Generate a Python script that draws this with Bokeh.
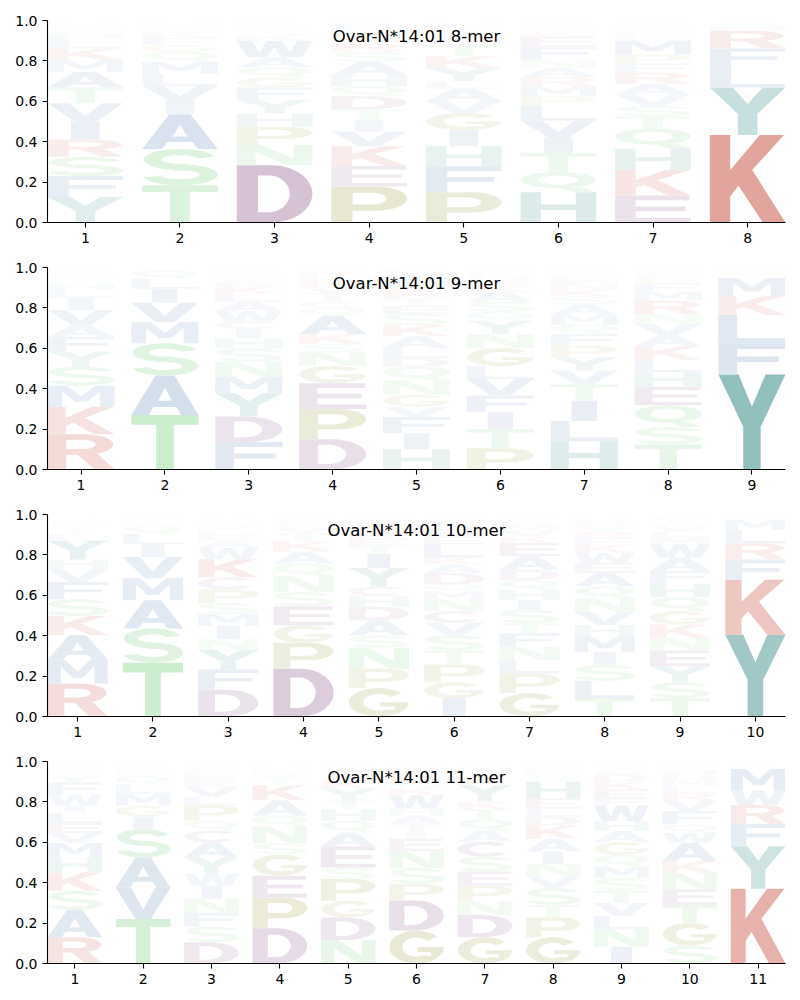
import math
from bokeh.plotting import figure
from bokeh.layouts import column
from bokeh.models import Range1d, FixedTicker, Label, NumeralTickFormatter, ColumnDataSource
from bokeh.embed import file_html
from bokeh.resources import INLINE

TITLES = ["Ovar-N*14:01 8-mer", "Ovar-N*14:01 9-mer", "Ovar-N*14:01 10-mer", "Ovar-N*14:01 11-mer"]

# letters of each position, bottom to top, with their heights (frequencies)
MER8_LETTERS = ["YFSRIVTAMKLHENQGDPCW", "TSAIVLMQGFKYNERHDPCW", "DNPHYFGQAWKSETRVLIMC",
                "PEKVITDQHASRGNFLYMCW", "PFHIGVALYKTESNRDQMCW", "HQTIVLPMRANFEKSGDYCW",
                "EKHQTSVARFPMLNYGDICW", "KYLFRMHAVIS"]
MER8_HEIGHTS = [
    [.126, .103, .096, .086, .089, .09, .078, .078, .058, .058, .045, .03, .015, .012, .01, .008, .005, .003, .002, .002],
    [.184, .18, .172, .066, .075, .058, .06, .05, .035, .035, .025, .015, .012, .008, .006, .005, .004, .003, .002, .002],
    [.284, .1, .09, .066, .066, .062, .05, .05, .05, .08, .03, .02, .012, .01, .008, .006, .005, .004, .003, .002],
    [.178, .102, .098, .072, .06, .05, .065, .05, .055, .065, .05, .04, .035, .03, .02, .015, .01, .003, .002, .002],
    [.15, .128, .1, .08, .084, .06, .06, .037, .065, .06, .055, .03, .025, .02, .015, .01, .008, .004, .002, .002],
    [.15, .1, .093, .08, .082, .075, .045, .05, .045, .046, .04, .065, .05, .02, .015, .012, .01, .008, .005, .004],
    [.134, .126, .106, .1, .06, .051, .055, .055, .055, .045, .044, .07, .02, .02, .015, .012, .01, .008, .005, .004],
    [.433, .235, .1, .094, .087, .026, .008, .005, .004, .003, .002],
]

MER9_LETTERS = ["RKMSYFAVILHTQNEGDPCW", "TASMVILQGNEK", "FDYMNSHICWALKEQGTPRV",
                "DPEGNSKAQCTVRLFMHIYW", "HIFVGNQDLAKSETRPMYCW", "PTIFVLGNYQSAKEDHRMCW",
                "HLITVYPFQMASKNEGDRCW", "TSQEHLKAVNRMFGDYPICW", "YFLKMIVRHAWST"]
MER9_HEIGHTS = [
    [.174, .136, .105, .094, .075, .073, .057, .075, .06, .04, .03, .02, .015, .012, .01, .008, .006, .004, .003, .002],
    [.27, .195, .16, .105, .095, .07, .05, .04, .005, .004, .002, .002],
    [.136, .126, .115, .084, .072, .067, .05, .045, .038, .05, .046, .04, .035, .025, .02, .015, .01, .008, .006, .005],
    [.15, .149, .128, .086, .067, .041, .05, .091, .04, .03, .04, .035, .03, .025, .02, .008, .006, .004, .003, .002],
    [.1, .08, .08, .05, .06, .07, .07, .04, .05, .06, .055, .055, .04, .04, .035, .03, .03, .025, .02, .01],
    [.105, .095, .083, .083, .082, .063, .09, .07, .065, .045, .05, .045, .03, .025, .02, .015, .01, .008, .004, .003],
    [.14, .1, .1, .082, .068, .065, .058, .057, .047, .05, .05, .04, .035, .03, .025, .02, .01, .006, .002, .002],
    [.124, .086, .108, .092, .072, .061, .067, .055, .056, .049, .066, .045, .04, .03, .015, .012, .01, .008, .004, .003],
    [.47, .155, .14, .093, .09, .01, .012, .01, .008, .006, .005, .003, .002],
]

MER10_LETTERS = ["RMAKSFVHYLITQNEGDPC", "TSAMVILQGNEKFR", "DFYNIMSPCKWAELVGHQTR",
                 "DPGESNQAKTVLRFHMIYW", "GPNSADHCYITEKRQLVMWF", "IGPTSVCNMQDAKLEFHRYW",
                 "GPLNFTSIHQDAEKVMRYCW", "TLSIMHVNQAEWKFRYGDPC", "TSYENKGQHFAWMLVRIDPC",
                 "YKFRLMIHAVW"]
MER10_HEIGHTS = [
    [.163, .119, .121, .095, .083, .085, .063, .048, .093, .03, .02, .015, .012, .01, .008, .006, .004, .003, .002],
    [.266, .17, .14, .108, .105, .065, .05, .042, .012, .01, .008, .006, .005, .004],
    [.133, .1, .096, .053, .067, .058, .055, .067, .06, .09, .057, .035, .03, .025, .02, .015, .01, .008, .005, .002],
    [.236, .129, .087, .094, .07, .079, .063, .059, .049, .04, .03, .015, .012, .01, .008, .006, .004, .003, .002],
    [.141, .095, .104, .062, .075, .066, .052, .048, .092, .07, .04, .035, .03, .025, .02, .015, .01, .008, .004, .003],
    [.09, .08, .087, .07, .075, .062, .058, .058, .04, .034, .056, .043, .034, .065, .04, .035, .02, .02, .015, .01],
    [.116, .097, .066, .067, .066, .05, .067, .048, .05, .05, .05, .067, .065, .03, .03, .025, .02, .015, .01, .005],
    [.09, .087, .079, .064, .077, .056, .066, .066, .06, .067, .048, .05, .04, .035, .03, .025, .02, .012, .008, .005],
    [.09, .08, .079, .078, .063, .065, .067, .068, .068, .062, .067, .067, .03, .03, .025, .02, .015, .01, .005, .003],
    [.405, .272, .1, .08, .066, .05, .005, .005, .004, .003, .002],
]

MER11_LETTERS = ["RASKHMVELIWFYTNQGDCP", "TVASIGMLQFNEKRDHP", "DSFNIWYACQPLVERKGMHT",
                 "DPEGSNQAKTVRLHFMYIC", "NDGPSEAQHTYKRVLIFMCW", "GDPSNEITAHWKQRVLMFYC",
                 "GDNPESCAQTKYRVHLMFI", "GPTSVNIAKDLEHQRMFYCW", "INLVTSMQGAHWFEKDRYPC",
                 "SGTENKAWQFVRLMDHYPIC", "KYFRWMLAVH"]
MER11_HEIGHTS = [
    [.13, .135, .095, .09, .076, .07, .05, .05, .05, .035, .055, .06, .03, .02, .015, .01, .008, .005, .003, .002],
    [.22, .155, .15, .14, .062, .055, .06, .045, .04, .015, .012, .01, .008, .006, .004, .003, .002],
    [.105, .078, .067, .07, .065, .06, .08, .075, .058, .05, .075, .041, .049, .03, .025, .02, .015, .01, .006, .004],
    [.174, .151, .11, .105, .055, .085, .053, .075, .075, .03, .02, .015, .01, .008, .006, .004, .003, .002, .002],
    [.116, .112, .083, .108, .056, .104, .07, .058, .058, .04, .06, .035, .025, .02, .015, .012, .01, .008, .003, .002],
    [.163, .149, .083, .078, .084, .061, .032, .043, .04, .034, .066, .035, .03, .025, .02, .015, .01, .008, .005, .002],
    [.13, .11, .07, .075, .07, .074, .074, .054, .058, .05, .037, .082, .03, .02, .015, .012, .01, .008, .005],
    [.13, .098, .063, .083, .058, .061, .062, .063, .066, .042, .041, .05, .084, .025, .02, .015, .012, .008, .005, .003],
    [.083, .087, .065, .065, .06, .063, .057, .058, .063, .055, .05, .076, .034, .045, .04, .035, .02, .015, .01, .005],
    [.09, .11, .09, .078, .08, .06, .09, .048, .042, .066, .05, .04, .035, .03, .025, .02, .012, .008, .005, .002],
    [.37, .21, .11, .095, .072, .106, .008, .005, .004, .003],
]

PANELS = [(MER8_LETTERS, MER8_HEIGHTS), (MER9_LETTERS, MER9_HEIGHTS),
          (MER10_LETTERS, MER10_HEIGHTS), (MER11_LETTERS, MER11_HEIGHTS)]

CLASS_COLORS = {
    "DEC": (107, 41, 107), "PG": (120, 120, 0), "MIWALFV": (33, 89, 156),
    "NTSQ": (64, 186, 71), "RK": (189, 46, 31), "HY": (23, 120, 117),
}


def letter_color(ch, alpha):
    for group, rgb in CLASS_COLORS.items():
        if ch in group:
            a = max(0.0, min(1.0, alpha))
            c = [round(255 - a * (255 - v)) for v in rgb]
            return "#%02x%02x%02x" % tuple(c)
    return "#cccccc"


def arc(cx, cy, rx, ry, a0, a1, n=22):
    pts = []
    for i in range(n + 1):
        a = math.radians(a0 + (a1 - a0) * i / n)
        pts.append((cx + rx * math.cos(a), cy + ry * math.sin(a)))
    return pts


def make_glyphs():
    g = {}
    g["A"] = [[[(0, 0), (0.26, 0), (0.33, 0.2), (0.67, 0.2), (0.74, 0), (1, 0), (0.64, 1), (0.36, 1)],
               [(0.4, 0.36), (0.6, 0.36), (0.5, 0.7)]]]
    g["C"] = [[arc(0.5, 0.5, 0.5, 0.5, 40, 320) + arc(0.5, 0.5, 0.27, 0.29, 320, 40)]]
    g["D"] = [[[(0, 0), (0.45, 0)] + arc(0.45, 0.5, 0.55, 0.5, -90, 90) + [(0, 1)],
               [(0.28, 0.18), (0.42, 0.18)] + arc(0.42, 0.5, 0.28, 0.32, -90, 90) + [(0.28, 0.82)]]]
    g["E"] = [[[(0, 0), (1, 0), (1, 0.18), (0.27, 0.18), (0.27, 0.42), (0.93, 0.42), (0.93, 0.59),
                (0.27, 0.59), (0.27, 0.82), (0.98, 0.82), (0.98, 1), (0, 1)]]]
    g["F"] = [[[(0, 0), (0.28, 0), (0.28, 0.4), (0.9, 0.4), (0.9, 0.58), (0.28, 0.58), (0.28, 0.82),
                (1, 0.82), (1, 1), (0, 1)]]]
    g["G"] = [[arc(0.5, 0.5, 0.5, 0.5, 40, 360) +
               [(0.52, 0.5), (0.52, 0.35), (0.76, 0.35), (0.76, 0.22)] +
               arc(0.5, 0.5, 0.26, 0.29, 300, 40)]]
    g["H"] = [[[(0, 0), (0.27, 0), (0.27, 0.41), (0.73, 0.41), (0.73, 0), (1, 0), (1, 1), (0.73, 1),
                (0.73, 0.59), (0.27, 0.59), (0.27, 1), (0, 1)]]]
    g["I"] = [[[(0.31, 0), (0.69, 0), (0.69, 1), (0.31, 1)]]]
    g["K"] = [[[(0, 0), (0.27, 0), (0.27, 0.3), (0.38, 0.42), (0.7, 0), (1, 0), (0.56, 0.6), (0.98, 1),
                (0.66, 1), (0.27, 0.6), (0.27, 1), (0, 1)]]]
    g["L"] = [[[(0, 0), (1, 0), (1, 0.18), (0.28, 0.18), (0.28, 1), (0, 1)]]]
    g["M"] = [[[(0, 0), (0.22, 0), (0.22, 0.72), (0.41, 0.24), (0.59, 0.24), (0.78, 0.72), (0.78, 0), (1, 0),
                (1, 1), (0.72, 1), (0.5, 0.5), (0.28, 1), (0, 1)]]]
    g["N"] = [[[(0, 0), (0.25, 0), (0.25, 0.66), (0.68, 0), (1, 0), (1, 1), (0.75, 1), (0.75, 0.34),
                (0.32, 1), (0, 1)]]]
    g["P"] = [[[(0, 0), (0.28, 0), (0.28, 0.33), (0.58, 0.33)] + arc(0.58, 0.665, 0.42, 0.335, -90, 90) + [(0, 1)],
               [(0.28, 0.5), (0.55, 0.5)] + arc(0.55, 0.665, 0.18, 0.165, -90, 90) + [(0.28, 0.83)]]]
    g["Q"] = [[arc(0.5, 0.6, 0.5, 0.4, 0, 360, 40), arc(0.5, 0.6, 0.26, 0.23, 0, 360, 40)],
              [[(0.52, 0.22), (0.7, 0.0), (1.0, 0.0), (0.8, 0.25)]]]
    g["R"] = [[[(0, 0), (0.28, 0), (0.28, 0.42), (0.55, 0.42)] + arc(0.55, 0.71, 0.43, 0.29, -90, 90) + [(0, 1)],
               [(0.28, 0.58), (0.52, 0.58)] + arc(0.52, 0.71, 0.2, 0.13, -90, 90) + [(0.28, 0.84)]],
              [[(0.42, 0.47), (0.7, 0), (1, 0), (0.72, 0.5)]]]
    g["S"] = [[arc(0.5, 0.71, 0.48, 0.29, 15, 290) + arc(0.5, 0.71, 0.24, 0.12, 290, 15)],
              [arc(0.5, 0.29, 0.5, 0.29, 110, -165) + arc(0.5, 0.29, 0.26, 0.12, -165, 110)]]
    g["T"] = [[[(0.37, 0), (0.63, 0), (0.63, 0.82), (1, 0.82), (1, 1), (0, 1), (0, 0.82), (0.37, 0.82)]]]
    g["V"] = [[[(0, 1), (0.28, 1), (0.5, 0.3), (0.72, 1), (1, 1), (0.64, 0), (0.36, 0)]]]
    g["W"] = [[[(0, 1), (0.2, 1), (0.3, 0.32), (0.4, 1), (0.6, 1), (0.7, 0.32), (0.8, 1), (1, 1),
                (0.86, 0), (0.6, 0), (0.5, 0.62), (0.4, 0), (0.14, 0)]]]
    g["Y"] = [[[(0, 1), (0.3, 1), (0.5, 0.66), (0.7, 1), (1, 1), (0.63, 0.45), (0.63, 0), (0.37, 0),
                (0.37, 0.45)]]]
    return g


GLYPHS = make_glyphs()
LETTER_WIDTH = 0.8

figs = []
for k, (letters_list, heights_list) in enumerate(PANELS):
    n = len(letters_list)
    xs, ys, cols = [], [], []
    for i, (letters, heights) in enumerate(zip(letters_list, heights_list)):
        pos = i + 1
        bottom = 0.0
        for ch, h in zip(letters, heights):
            col = letter_color(ch, h)
            for part in GLYPHS[ch]:
                xs.append([[[pos - LETTER_WIDTH / 2 + LETTER_WIDTH * u for (u, v) in ring] for ring in part]])
                ys.append([[[bottom + h * v for (u, v) in ring] for ring in part]])
                cols.append(col)
            bottom += h

    top_border = 20 if k == 0 else 12
    p = figure(width=792, height=202 + 33 + top_border, x_range=Range1d(0.6, n + 0.4), y_range=Range1d(0, 1),
               output_backend="svg", toolbar_location=None,
               min_border_left=47, min_border_right=7, min_border_top=top_border, min_border_bottom=33)
    src = ColumnDataSource(dict(xs=xs, ys=ys, c=cols))
    p.multi_polygons(xs="xs", ys="ys", fill_color="c", line_color=None, source=src)

    p.outline_line_color = None
    p.grid.visible = False
    p.background_fill_color = "white"
    p.border_fill_color = "white"

    p.xaxis.ticker = FixedTicker(ticks=list(range(1, n + 1)))
    p.yaxis.ticker = FixedTicker(ticks=[0, 0.2, 0.4, 0.6, 0.8, 1.0])
    p.yaxis.formatter = NumeralTickFormatter(format="0.0")
    for ax in (p.xaxis[0], p.yaxis[0]):
        ax.axis_line_color = "black"
        ax.axis_line_width = 1.1
        ax.major_tick_line_color = "black"
        ax.major_tick_line_width = 1.1
        ax.major_tick_in = 0
        ax.major_tick_out = 5
        ax.minor_tick_line_color = None
        ax.major_label_text_font = "DejaVu Sans"
        ax.major_label_text_font_size = "14px"
        ax.major_label_text_color = "black"
        ax.major_label_standoff = 5

    p.add_layout(Label(x=(n + 1) / 2, y=0.92, text=TITLES[k], text_align="center",
                       text_baseline="middle", text_font="DejaVu Sans", text_font_size="16.5px",
                       text_color="black"))
    figs.append(p)

layout = column(*figs, spacing=0)
open("out.html", "w").write(file_html(layout, INLINE))
